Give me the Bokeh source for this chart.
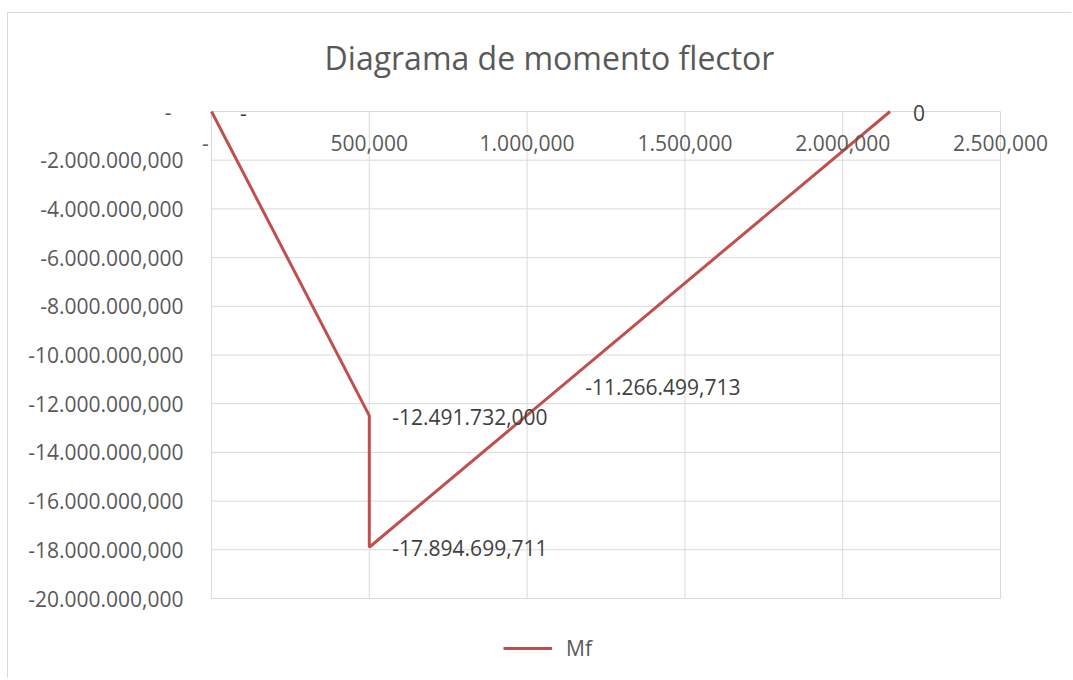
from bokeh.plotting import figure
from bokeh.models import (ColumnDataSource, LabelSet, Label, Legend, LegendItem, Range1d)
from bokeh.core.properties import value
from bokeh.embed import file_html
from bokeh.resources import INLINE

# ---- data ----
x_vals = [0, 500, 500, 1111, 2150]
mf_vals = [0, -12491732.000, -17894699.711, -11266499.713, 0]
point_labels = ["\u00a0-", "-12.491.732,000", "-17.894.699,711", "-11.266.499,713", "0"]

x_ticks = [0, 500, 1000, 1500, 2000, 2500]
x_tick_labels = ["-", "500,000", "1.000,000", "1.500,000", "2.000,000", "2.500,000"]

y_ticks = [0, -2e6, -4e6, -6e6, -8e6, -10e6, -12e6, -14e6, -16e6, -18e6, -20e6]
y_tick_labels = ["-", "-2.000.000,000", "-4.000.000,000", "-6.000.000,000", "-8.000.000,000",
                 "-10.000.000,000", "-12.000.000,000", "-14.000.000,000", "-16.000.000,000",
                 "-18.000.000,000", "-20.000.000,000"]

title_text = "Diagrama de momento flector"
series_name = "Mf"

FONT = "Open Sans"
GRID = "#d9d9d9"
LINE = "#c0504d"

# ---- layout (pixels) ----
W, H = 1064, 666
ORG_X, ORG_Y = 8, 13            # page position of the canvas
PL, PR, PT, PB = 211, 1000, 111, 598   # plot area box on the page
XMIN, XMAX = x_ticks[0], x_ticks[-1]
YMAX, YMIN = y_ticks[0], y_ticks[-1]

kx = (PR - PL) / (XMAX - XMIN)
ky = (PB - PT) / (YMAX - YMIN)
xs = XMIN - (PL - ORG_X) / kx
xe = xs + W / kx
ye = YMAX + (PT - ORG_Y) / ky
ys = ye - H / ky

p = figure(width=W, height=H, output_backend="svg", toolbar_location=None,
           x_range=Range1d(xs, xe), y_range=Range1d(ys, ye),
           min_border_left=0, min_border_right=0, min_border_top=0, min_border_bottom=0)
p.styles = {"border-left": "1px solid #d9d9d9", "border-top": "1px solid #d9d9d9",
            "margin-top": "12px", "margin-left": "7px"}
p.outline_line_color = None
p.background_fill_color = "white"
p.border_fill_color = "white"
p.axis.visible = False
p.grid.visible = False

# gridlines of the plot area
p.segment(x0=x_ticks, y0=[YMIN] * len(x_ticks), x1=x_ticks, y1=[YMAX] * len(x_ticks),
          line_color=GRID, line_width=1)
p.segment(x0=[XMIN] * len(y_ticks), y0=y_ticks, x1=[XMAX] * len(y_ticks), y1=y_ticks,
          line_color=GRID, line_width=1)

# y tick labels
ysrc = ColumnDataSource(dict(x=[XMIN] * len(y_ticks), y=y_ticks,
                             t=[(l + "\u2007") if l == "-" else l for l in y_tick_labels]))
p.add_layout(LabelSet(x="x", y="y", text="t", source=ysrc, text_align="right",
                      text_baseline="middle", x_offset=-28, text_font=value(FONT),
                      text_font_size="21px", text_color="#595959"))

# x tick labels inside the plot area, below the top edge
xsrc = ColumnDataSource(dict(x=x_ticks, y=[YMAX] * len(x_ticks),
                             t=[(l + "\u2007") if l == "-" else l for l in x_tick_labels]))
p.add_layout(LabelSet(x="x", y="y", text="t", source=xsrc, text_align="center",
                      text_baseline="middle", y_offset=-31, text_font=value(FONT),
                      text_font_size="21px", text_color="#595959"))

# series line
src = ColumnDataSource(dict(x=x_vals, y=mf_vals, t=point_labels))
r = p.line("x", "y", source=src, line_color=LINE, line_width=3)

# data labels
p.add_layout(LabelSet(x="x", y="y", text="t", source=src, x_offset=23, y_offset=-1,
                      text_align="left", text_baseline="middle", text_font=value(FONT),
                      text_font_size="21px", text_color="#404040"))

# title
p.add_layout(Label(x=549 - ORG_X, y=H - (57 - ORG_Y), x_units="screen", y_units="screen",
                   text=title_text, text_align="center", text_baseline="middle",
                   text_font=FONT, text_font_size="32px", text_color="#595959"))

# legend
legend = Legend(items=[LegendItem(label=series_name, renderers=[r])],
                location=(503 - ORG_X, H - (650 - ORG_Y) - 12), orientation="horizontal",
                glyph_width=49, glyph_height=24, label_height=24, label_standoff=14,
                label_text_font=FONT, label_text_font_size="21px", label_text_color="#595959",
                label_text_baseline="middle",
                padding=0, margin=0, border_line_color=None, background_fill_alpha=0)
p.add_layout(legend, "center")

open("out.html", "w").write(file_html(p, INLINE))
